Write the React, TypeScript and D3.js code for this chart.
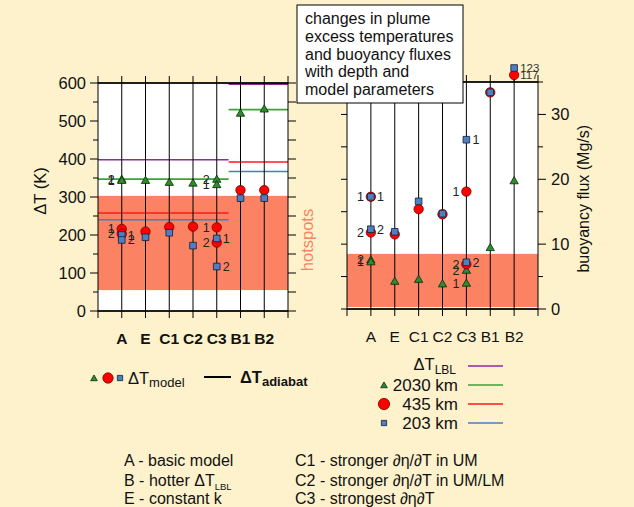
import * as d3 from 'd3'

// ── data ──────────────────────────────────────────────────────────────
const categories = ['A', 'E', 'C1', 'C2', 'C3', 'B1', 'B2']

// ΔT (K) per model; "2" series only where a second run exists
const dT2030_1 = [344, 344, 339, 337, 333, 521, 532]
const dT2030_2 = [347, null, null, null, 347, null, null]
const dT435_1 = [216, 209, 221, 222, 220, 318, 318]
const dT435_2 = [203, null, null, null, 180, null, null]
const dT203_1 = [200, 194, 206, 172, 191, 297, 297]
const dT203_2 = [187, null, null, null, 117, null, null]

// buoyancy flux (Mg/s)
const flux2030_1 = [7.3, 4.3, 4.6, 3.9, 4.0, 9.5, 19.8]
const flux2030_2 = [7.6, null, null, null, 6.0, null, null]
const flux435_1 = [17.3, 11.5, 15.4, 14.6, 18.1, 33.4, 117]
const flux435_2 = [11.8, null, null, null, 6.9, null, null]
const flux203_1 = [17.3, 11.9, 16.6, 14.7, 26.1, 33.4, 123]
const flux203_2 = [12.3, null, null, null, 7.2, null, null]

// adiabat / LBL reference values: [A..C3 group, B group]
const refLBL = [398, 597]
const ref2030 = [347, 530]
const ref435 = [258, 392]
const ref203 = [240, 367]

const hotspotsDT = [55, 303]
const hotspotsFlux = [0.3, 8.5]

const leftTicks = d3.range(0, 601, 50)
const rightTicks = d3.range(0, 36, 5)

const titleLines = ['changes in plume', 'excess temperatures', 'and buoyancy fluxes', 'with depth and', 'model parameters']

// ── layout ────────────────────────────────────────────────────────────
const W = 634
const H = 507
const FONT = '"Liberation Sans", Arial, Helvetica, sans-serif'

const xL = d3.scaleLinear().domain([0, 8]).range([98, 288])
const yL = d3.scaleLinear().domain([0, 600]).range([311, 83])
const xR = d3.scaleLinear().domain([0, 8]).range([347, 538])
const yR = d3.scaleLinear().domain([0, 35]).range([309, 82])

const C_LBL = '#8d2aa0'
const C_2030 = '#3aa33a'
const C_435 = '#ff1a1a'
const C_203 = '#4a7cc2'
const BAND = '#fb8262'
const BG = '#fdf2cc'

const tri = d3.symbol().type(d3.symbolTriangle)
const sq = d3.symbol().type(d3.symbolSquare)

type Kind = 'tri' | 'circ' | 'sq'

function Marker({ kind, x, y, s = 1 }: { kind: Kind; x: number; y: number; s?: number }) {
  if (kind === 'circ')
    return <circle cx={x} cy={y} r={4.7 * s} fill="#ff0000" stroke="#7a0000" strokeWidth={0.8} />
  if (kind === 'tri')
    return (
      <path d={tri.size(30 * s * s)()!} transform={`translate(${x},${y + 0.8})`}
        fill="#2e8b2e" stroke="#0b2a0b" strokeWidth={0.8} />
    )
  return (
    <path d={sq.size(44 * s * s)()!} transform={`translate(${x},${y})`}
      fill="#4f7fc0" stroke="#10203a" strokeWidth={0.8} />
  )
}

function Series({ vals, kind, label, x, y, side, other }: {
  vals: (number | null)[]; kind: Kind; label: string
  x: (v: number) => number; y: (v: number) => number; side: 'l' | 'r'
  other: (number | null)[]
}) {
  return (
    <g>
      {vals.map((v, i) => {
        if (v == null) return null
        const cx = x(i + 1)
        const cy = y(v)
        const twin = other[i] != null || label === '2'
        return (
          <g key={i}>
            <Marker kind={kind} x={cx} y={cy} />
            {twin && (
              <text x={side === 'l' ? cx - 7 : cx + 6} y={cy + 4.5}
                textAnchor={side === 'l' ? 'end' : 'start'} fontSize={12.5} fill="#222">
                {label}
              </text>
            )}
          </g>
        )
      })}
    </g>
  )
}

function Frame({ x, y, sideTicks, sideMajor, leftLen, rightLen }: {
  x: d3.ScaleLinear<number, number>; y: d3.ScaleLinear<number, number>
  sideTicks: number[]; sideMajor: (v: number) => boolean
  leftLen: [number, number]; rightLen: [number, number]
}) {
  const [x0, x1] = x.range()
  const [yb, yt] = y.range()
  return (
    <g stroke="#000" strokeWidth={1}>
      <rect x={x0} y={yt} width={x1 - x0} height={yb - yt} fill="none" />
      <line x1={x0} x2={x1} y1={yt} y2={yt} strokeWidth={1.6} />
      <line x1={x0} x2={x1} y1={yb} y2={yb} strokeWidth={1.6} />
      {d3.range(0, 9).map((t) => (
        <g key={t}>
          <line x1={x(t)} x2={x(t)} y1={yb} y2={yb + 7} />
          <line x1={x(t)} x2={x(t)} y1={yt} y2={yt - 7} />
        </g>
      ))}
      {sideTicks.map((t) => (
        <g key={t}>
          <line x1={x0} x2={x0 - (sideMajor(t) ? leftLen[0] : leftLen[1])} y1={y(t)} y2={y(t)} />
          <line x1={x1} x2={x1 + (sideMajor(t) ? rightLen[0] : rightLen[1])} y1={y(t)} y2={y(t)} />
        </g>
      ))}
    </g>
  )
}

export default function App() {
  const splitL = xL(5.5)
  const refs = [
    { v: refLBL, c: C_LBL },
    { v: ref2030, c: C_2030 },
    { v: ref435, c: C_435 },
    { v: ref203, c: C_203 },
  ]

  // off-scale flux values (B2) stacked just above the top of the frame
  const top = yR.range()[1]
  const over = [...flux435_1, ...flux203_1].filter((v) => v > 35).sort((a, b) => a - b)
  const yFlux = (v: number) => (v > 35 ? top - 7 - 7 * over.indexOf(v) : yR(v))

  const legendRows = [
    { label: '2030 km', kind: 'tri' as Kind, c: C_2030 },
    { label: '435 km', kind: 'circ' as Kind, c: C_435 },
    { label: '203 km', kind: 'sq' as Kind, c: C_203 },
  ]

  return (
    <svg width={W} height={H} style={{ position: 'absolute', left: 0, top: 0 }} fontFamily={FONT}>
      <rect width={W} height={H} fill={BG} />

      {/* ── left panel: ΔT ───────────────────────────────────────── */}
      <rect x={xL(0)} y={yL(600)} width={xL(8) - xL(0)} height={yL(0) - yL(600)} fill="#fff" />
      <rect x={xL(0)} y={yL(hotspotsDT[1])} width={xL(8) - xL(0)}
        height={yL(hotspotsDT[0]) - yL(hotspotsDT[1])} fill={BAND} />
      {refs.map(({ v, c }) => (
        <g key={c} stroke={c} strokeWidth={1.6}>
          <line x1={xL(0)} x2={splitL} y1={yL(v[0])} y2={yL(v[0])} />
          <line x1={splitL} x2={xL(8)} y1={yL(v[1])} y2={yL(v[1])} />
        </g>
      ))}
      {categories.map((c, i) => (
        <line key={c} x1={xL(i + 1)} x2={xL(i + 1)} y1={yL(600)} y2={yL(0)} stroke="#000" strokeWidth={1} />
      ))}
      <Frame x={xL} y={yL} sideTicks={leftTicks} sideMajor={(t) => t % 100 === 0}
        leftLen={[8, 5]} rightLen={[8, 8]} />
      <Series vals={dT2030_2} other={dT2030_1} kind="tri" label="2" x={xL} y={yL} side="l" />
      <Series vals={dT2030_1} other={dT2030_2} kind="tri" label="1" x={xL} y={yL} side="l" />
      <Series vals={dT435_1} other={dT435_2} kind="circ" label="1" x={xL} y={yL} side="l" />
      <Series vals={dT435_2} other={dT435_1} kind="circ" label="2" x={xL} y={yL} side="l" />
      <Series vals={dT203_1} other={dT203_2} kind="sq" label="1" x={xL} y={yL} side="r" />
      <Series vals={dT203_2} other={dT203_1} kind="sq" label="2" x={xL} y={yL} side="r" />

      {leftTicks.filter((t) => t % 100 === 0).map((t) => (
        <text key={t} x={86} y={yL(t) + 6} textAnchor="end" fontSize={16.5} fill="#111">{t}</text>
      ))}
      <text transform={`translate(46,${yL(300) - 6}) rotate(-90)`} textAnchor="middle" fontSize={16.5} fill="#111">
        ΔT (K)
      </text>
      {categories.map((c, i) => (
        <text key={c} x={xL(i + 1)} y={344} textAnchor="middle" fontSize={15.5} fontWeight="bold" fill="#111">{c}</text>
      ))}
      <text transform="translate(313,240) rotate(-90)" textAnchor="middle" fontSize={16.5} fill={BAND}>hotspots</text>

      {/* ── right panel: buoyancy flux ───────────────────────────── */}
      <rect x={xR(0)} y={yR(35)} width={xR(8) - xR(0)} height={yR(0) - yR(35)} fill="#fff" />
      <rect x={xR(0)} y={yR(hotspotsFlux[1])} width={xR(8) - xR(0)}
        height={yR(hotspotsFlux[0]) - yR(hotspotsFlux[1])} fill={BAND} />
      {categories.map((c, i) => {
        const hi = Math.max(flux435_1[i], flux203_1[i])
        return (
          <line key={c} x1={xR(i + 1)} x2={xR(i + 1)} y1={Math.min(yR(35), yFlux(hi))} y2={yR(0)}
            stroke="#000" strokeWidth={1} />
        )
      })}
      <Frame x={xR} y={yR} sideTicks={rightTicks} sideMajor={(t) => t % 10 === 0}
        leftLen={[6, 6]} rightLen={[8, 5]} />
      <Series vals={flux2030_2} other={flux2030_1} kind="tri" label="2" x={xR} y={yR} side="l" />
      <Series vals={flux2030_1} other={flux2030_2} kind="tri" label="1" x={xR} y={yR} side="l" />
      <Series vals={flux435_1} other={flux435_2} kind="circ" label="1" x={xR} y={yFlux} side="l" />
      <Series vals={flux435_2} other={flux435_1} kind="circ" label="2" x={xR} y={yR} side="l" />
      <Series vals={flux203_1} other={flux203_2} kind="sq" label="1" x={xR} y={yFlux} side="r" />
      <Series vals={flux203_2} other={flux203_1} kind="sq" label="2" x={xR} y={yR} side="r" />
      {categories.map((c, i) =>
        [flux203_1[i], flux435_1[i]].filter((v) => v > 35).map((v) => (
          <text key={c + v} x={xR(i + 1) + 6} y={yFlux(v) + 4} fontSize={11.5} fill="#333">{v}</text>
        ))
      )}

      {rightTicks.filter((t) => t % 10 === 0).map((t) => (
        <text key={t} x={551} y={yR(t) + 6} fontSize={16.5} fill="#111">{t}</text>
      ))}
      <text transform={`translate(589,${yR(17)}) rotate(-90)`} textAnchor="middle" fontSize={16} fill="#111">
        buoyancy flux (Mg/s)
      </text>
      {categories.map((c, i) => (
        <text key={c} x={xR(i + 1)} y={342} textAnchor="middle" fontSize={15.5} fill="#111">{c}</text>
      ))}

      {/* ── title box ────────────────────────────────────────────── */}
      <rect x={297} y={5} width={166} height={98} fill="#fff" stroke="#000" strokeWidth={1} />
      {titleLines.map((s, i) => (
        <text key={s} x={305} y={24 + i * 17.8} fontSize={16} fill="#111">{s}</text>
      ))}

      {/* ── legends ──────────────────────────────────────────────── */}
      <Marker kind="tri" x={94} y={378} s={0.8} />
      <Marker kind="circ" x={108} y={378} s={1.1} />
      <Marker kind="sq" x={120} y={378} s={0.8} />
      <text x={128} y={384} fontSize={16.5} fill="#111">
        ΔT<tspan fontSize={13} dy={3}>model</tspan>
      </text>
      <line x1={204} x2={231} y1={377} y2={377} stroke="#000" strokeWidth={2} />
      <text x={240} y={383} fontSize={16.5} fontWeight="bold" fill="#111">
        ΔT<tspan fontSize={13} dy={3}>adiabat</tspan>
      </text>

      <text x={456} y={370} textAnchor="end" fontSize={16.5} fill="#111">
        ΔT<tspan fontSize={12} dy={4}>LBL</tspan>
      </text>
      <line x1={468} x2={503} y1={366} y2={366} stroke={C_LBL} strokeWidth={1.6} />
      {legendRows.map((r, i) => (
        <g key={r.label}>
          <Marker kind={r.kind} x={384} y={385 + i * 19} s={r.kind === 'circ' ? 1.2 : 0.8} />
          <text x={458} y={391 + i * 19} textAnchor="end" fontSize={17} fill="#111">{r.label}</text>
          <line x1={468} x2={503} y1={385 + i * 19} y2={385 + i * 19} stroke={r.c} strokeWidth={1.6} />
        </g>
      ))}

      {/* ── model key ────────────────────────────────────────────── */}
      <g fontSize={16} fill="#111">
        <text x={124} y={466}>A - basic model</text>
        <text x={124} y={486}>B - hotter ΔT<tspan fontSize={9.5} dy={4}>LBL</tspan></text>
        <text x={124} y={504}>E - constant k</text>
        <text x={295} y={466}>C1 - stronger ∂η/∂T in UM</text>
        <text x={295} y={486}>C2 - stronger ∂η/∂T in UM/LM</text>
        <text x={295} y={504}>C3 - strongest ∂η∂T</text>
      </g>
    </svg>
  )
}
